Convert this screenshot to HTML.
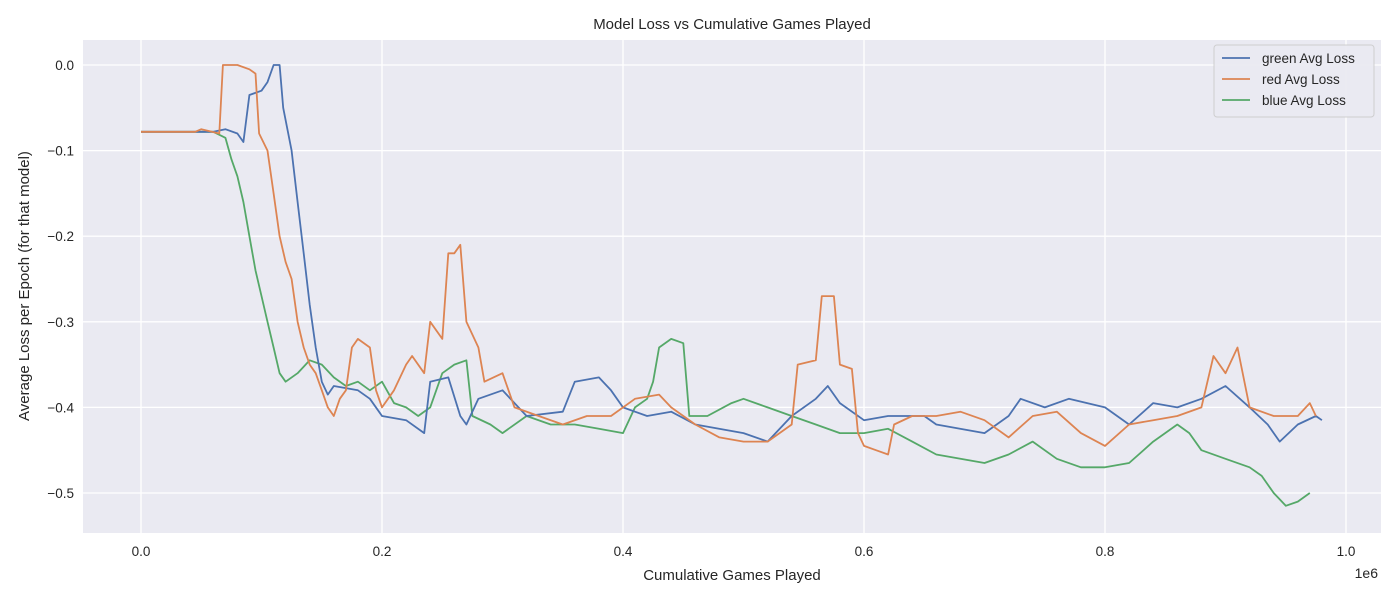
<!DOCTYPE html>
<html><head><meta charset="utf-8"><style>
body{margin:0;background:#fff;font-family:"Liberation Sans",sans-serif}
svg text{font-family:"Liberation Sans",sans-serif;fill:#262626}
</style></head><body>
<svg width="1400" height="600" id="c">
<rect x="83" y="40" width="1298" height="493" fill="#eaeaf2"/>
<g id="grid"></g><g id="lines"></g><g id="ticks"></g>
<text x="732" y="29" font-size="15" text-anchor="middle">Model Loss vs Cumulative Games Played</text>
<text x="732" y="580" font-size="15" text-anchor="middle">Cumulative Games Played</text>
<text x="1378" y="578" font-size="14" text-anchor="end">1e6</text>
<text transform="translate(29,286) rotate(-90)" font-size="15" text-anchor="middle">Average Loss per Epoch (for that model)</text>
<g>
<rect x="1214" y="45" width="160" height="72" rx="3" fill="#eaeaf2" stroke="#ccc" opacity="0.9"/>
<g id="leg"></g></g>
</svg>
<script>
const xTicks=[0,0.2,0.4,0.6,0.8,1.0];
const xTickLabels=["0.0","0.2","0.4","0.6","0.8","1.0"];
const yTicks=[0,-0.1,-0.2,-0.3,-0.4,-0.5];
const yTickLabels=["0.0","−0.1","−0.2","−0.3","−0.4","−0.5"];
const seriesNames=["green Avg Loss","red Avg Loss","blue Avg Loss"];
const greenX=[0,0.06,0.07,0.08,0.085,0.09,0.1,0.105,0.11,0.115,0.118,0.125,0.13,0.135,0.14,0.145,0.15,0.155,0.16,0.18,0.19,0.2,0.22,0.235,0.24,0.255,0.265,0.27,0.28,0.3,0.32,0.35,0.36,0.38,0.39,0.4,0.42,0.44,0.46,0.5,0.52,0.54,0.56,0.57,0.58,0.6,0.62,0.65,0.66,0.7,0.72,0.73,0.75,0.77,0.8,0.82,0.84,0.86,0.88,0.9,0.92,0.935,0.945,0.96,0.975,0.98];
const greenY=[-0.078,-0.078,-0.075,-0.08,-0.09,-0.035,-0.03,-0.02,0,0,-0.05,-0.1,-0.16,-0.22,-0.28,-0.33,-0.37,-0.385,-0.375,-0.38,-0.39,-0.41,-0.415,-0.43,-0.37,-0.365,-0.41,-0.42,-0.39,-0.38,-0.41,-0.405,-0.37,-0.365,-0.38,-0.4,-0.41,-0.405,-0.42,-0.43,-0.44,-0.41,-0.39,-0.375,-0.395,-0.415,-0.41,-0.41,-0.42,-0.43,-0.41,-0.39,-0.4,-0.39,-0.4,-0.42,-0.395,-0.4,-0.39,-0.375,-0.4,-0.42,-0.44,-0.42,-0.41,-0.415];
const redX=[0,0.045,0.05,0.065,0.068,0.08,0.09,0.095,0.098,0.105,0.11,0.115,0.12,0.125,0.13,0.135,0.14,0.145,0.15,0.155,0.16,0.165,0.17,0.175,0.18,0.19,0.195,0.2,0.21,0.22,0.225,0.235,0.24,0.25,0.255,0.26,0.265,0.27,0.28,0.285,0.3,0.31,0.33,0.35,0.37,0.39,0.41,0.43,0.44,0.46,0.48,0.5,0.52,0.54,0.545,0.56,0.565,0.575,0.58,0.59,0.595,0.6,0.61,0.62,0.625,0.64,0.66,0.68,0.7,0.72,0.74,0.76,0.78,0.8,0.82,0.84,0.86,0.88,0.89,0.9,0.91,0.92,0.94,0.96,0.97,0.975];
const redY=[-0.078,-0.078,-0.075,-0.08,0,0,-0.005,-0.01,-0.08,-0.1,-0.15,-0.2,-0.23,-0.25,-0.3,-0.33,-0.35,-0.36,-0.38,-0.4,-0.41,-0.39,-0.38,-0.33,-0.32,-0.33,-0.38,-0.4,-0.38,-0.35,-0.34,-0.36,-0.3,-0.32,-0.22,-0.22,-0.21,-0.3,-0.33,-0.37,-0.36,-0.4,-0.41,-0.42,-0.41,-0.41,-0.39,-0.385,-0.4,-0.42,-0.435,-0.44,-0.44,-0.42,-0.35,-0.345,-0.27,-0.27,-0.35,-0.355,-0.43,-0.445,-0.45,-0.455,-0.42,-0.41,-0.41,-0.405,-0.415,-0.435,-0.41,-0.405,-0.43,-0.445,-0.42,-0.415,-0.41,-0.4,-0.34,-0.36,-0.33,-0.4,-0.41,-0.41,-0.395,-0.41];
const blueX=[0,0.06,0.07,0.075,0.08,0.085,0.09,0.095,0.1,0.105,0.11,0.115,0.12,0.13,0.14,0.15,0.16,0.17,0.18,0.19,0.2,0.21,0.22,0.23,0.24,0.25,0.26,0.27,0.275,0.29,0.3,0.32,0.34,0.36,0.38,0.4,0.41,0.42,0.425,0.43,0.44,0.45,0.455,0.47,0.49,0.5,0.52,0.54,0.56,0.58,0.6,0.62,0.64,0.66,0.68,0.7,0.72,0.74,0.76,0.78,0.8,0.82,0.84,0.86,0.87,0.88,0.9,0.92,0.93,0.94,0.95,0.96,0.97];
const blueY=[-0.078,-0.078,-0.085,-0.11,-0.13,-0.16,-0.2,-0.24,-0.27,-0.3,-0.33,-0.36,-0.37,-0.36,-0.345,-0.35,-0.365,-0.375,-0.37,-0.38,-0.37,-0.395,-0.4,-0.41,-0.4,-0.36,-0.35,-0.345,-0.41,-0.42,-0.43,-0.41,-0.42,-0.42,-0.425,-0.43,-0.4,-0.39,-0.37,-0.33,-0.32,-0.325,-0.41,-0.41,-0.395,-0.39,-0.4,-0.41,-0.42,-0.43,-0.43,-0.425,-0.44,-0.455,-0.46,-0.465,-0.455,-0.44,-0.46,-0.47,-0.47,-0.465,-0.44,-0.42,-0.43,-0.45,-0.46,-0.47,-0.48,-0.5,-0.515,-0.51,-0.5];
const colors=["#4c72b0","#dd8452","#55a868"];
const ns="http://www.w3.org/2000/svg";
const sx=v=>141+v*1205, sy=v=>65-v*856;
function mk(t,a,p){const e=document.createElementNS(ns,t);for(const k in a)e.setAttribute(k,a[k]);p.appendChild(e);return e;}
const g=document.getElementById('grid'),tk=document.getElementById('ticks'),ln=document.getElementById('lines'),lg=document.getElementById('leg');
xTicks.forEach((v,i)=>{
 const l=mk('line',{x1:sx(v),x2:sx(v),y1:40,y2:533,stroke:'#fff','stroke-width':1.3},g);
 
 
 const t=mk('text',{x:sx(v),y:556,'font-size':13.5,'text-anchor':'middle'},tk);t.textContent=xTickLabels[i];
 
 
});
yTicks.forEach((v,i)=>{
 const l=mk('line',{x1:83,x2:1381,y1:sy(v),y2:sy(v),stroke:'#fff','stroke-width':1.3},g);
 
 
 const t=mk('text',{x:74,y:sy(v)+5,'font-size':13.5,'text-anchor':'end'},tk);t.textContent=yTickLabels[i];
 
 
});
const data=[[greenX,greenY],[redX,redY],[blueX,blueY]];
const order=[2,0,1];
order.forEach(i=>{
 const [xs,ys]=data[i];let d='';
 xs.forEach((x,j)=>{d+=(j?' L':'M')+sx(x).toFixed(1)+' '+sy(ys[j]).toFixed(1);});
 const p=mk('path',{d:d,fill:'none',stroke:colors[i],'stroke-width':1.8,'stroke-linejoin':'round'},ln);
 
 
});
seriesNames.forEach((n,i)=>{
 const y=58+i*21;
 const l=mk('line',{x1:1222,x2:1250,y1:y,y2:y,stroke:colors[i],'stroke-width':1.8},lg);
 
 
 const t=mk('text',{x:1262,y:y+5,'font-size':13.5},lg);t.textContent=n;
 
 
});
</script>
</body></html>
